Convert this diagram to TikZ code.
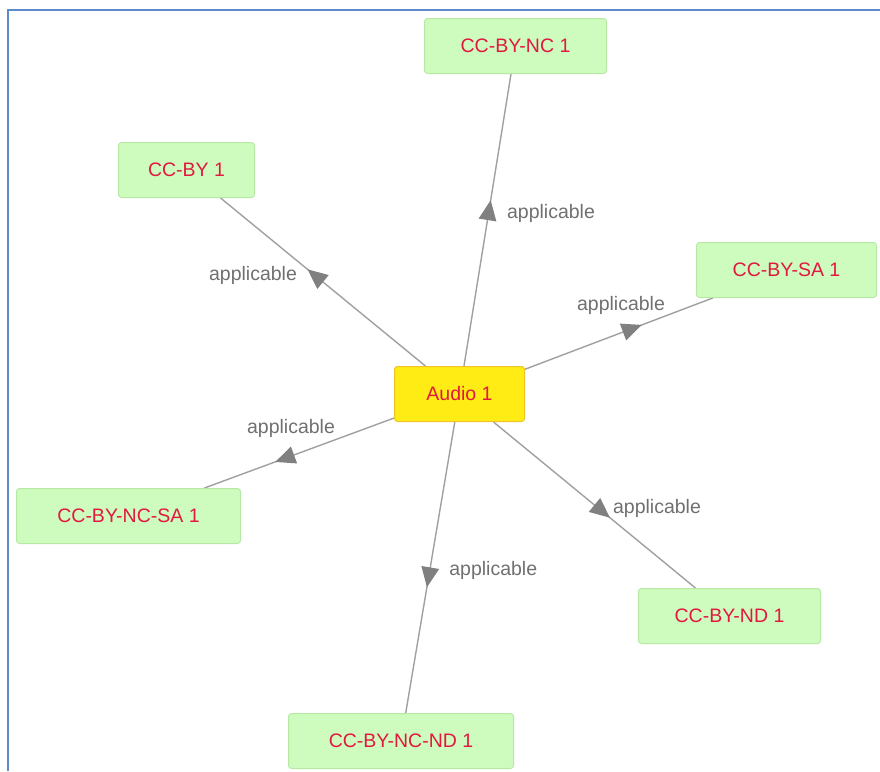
\documentclass[tikz,border=0pt]{standalone}
\usepackage{fontspec}
\setmainfont{Liberation Sans}
\usetikzlibrary{calc,decorations.markings,backgrounds}
\definecolor{nodegreen}{RGB}{206,252,190}
\definecolor{nodegreenb}{RGB}{182,234,164}
\definecolor{audioy}{RGB}{255,236,20}
\definecolor{audiob}{RGB}{238,196,40}
\definecolor{txtred}{RGB}{226,24,64}
\definecolor{lblgray}{RGB}{112,112,112}
\definecolor{linegray}{RGB}{160,160,160}
\definecolor{arrgray}{RGB}{128,128,128}
\definecolor{frameblue}{RGB}{92,140,205}
\begin{document}
\begin{tikzpicture}[x=1pt,y=-1pt,
  box/.style={rounded corners=3pt, line width=1pt, text=txtred,
    font=\fontsize{19.5}{20}\selectfont, minimum height=55pt, inner sep=0pt},
  lic/.style={box, draw=nodegreenb, fill=nodegreen},
  media/.style={box, draw=audiob, fill=audioy},
  conn/.style={draw=linegray, line width=1.4pt},
  arrowmid/.style={decoration={markings, mark=at position 0.5 with
    {\fill[arrgray] (0pt,-9pt) -- (20pt,0pt) -- (0pt,9pt) -- cycle;}},
    postaction={decorate}},
  lbl/.style={text=lblgray, font=\fontsize{19.5}{20}\selectfont, inner sep=0pt}]
\useasboundingbox (0,0) rectangle (880,771);
\coordinate (fTL) at (8,10);
\coordinate (fTR) at (880,10);
\coordinate (fBL) at (8,771);
\draw[frameblue, line width=2.4pt] (fTR) -- (fTL) -- (fBL);

\node[media, minimum width=130pt] (audio) at (459.5,394) {Audio 1};
\node[lic, minimum width=182pt] (nc) at (515.5,46) {CC-BY-NC 1};
\node[lic, minimum width=136pt] (by) at (186.5,170) {CC-BY 1};
\node[lic, minimum width=180pt] (sa) at (786.5,270) {CC-BY-SA 1};
\node[lic, minimum width=224pt] (ncsa) at (128.5,516) {CC-BY-NC-SA 1};
\node[lic, minimum width=182pt] (nd) at (729.5,616) {CC-BY-ND 1};
\node[lic, minimum width=225pt] (ncnd) at (401,741) {CC-BY-NC-ND 1};

\begin{pgfonlayer}{background}
\foreach \t in {nc,by,sa,ncsa,nd,ncnd}{
  \path[conn] (audio) -- (\t);
  \path[arrowmid] (audio.center) -- (\t.center);
}
\end{pgfonlayer}

\node[lbl] (lnc) at ($(audio.center)!0.5!(nc.center)+(63.5,-7)$) {applicable};
\node[lbl] (lby) at ($(audio.center)!0.5!(by.center)+(-70,-7)$) {applicable};
\node[lbl] (lsa) at ($(audio.center)!0.5!(sa.center)+(-2,-27)$) {applicable};
\node[lbl] (lncsa) at ($(audio.center)!0.5!(ncsa.center)+(-3,-27)$) {applicable};
\node[lbl] (lnd) at ($(audio.center)!0.5!(nd.center)+(62.5,3)$) {applicable};
\node[lbl] (lncnd) at ($(audio.center)!0.5!(ncnd.center)+(63,2.5)$) {applicable};
\end{tikzpicture}
\end{document}
